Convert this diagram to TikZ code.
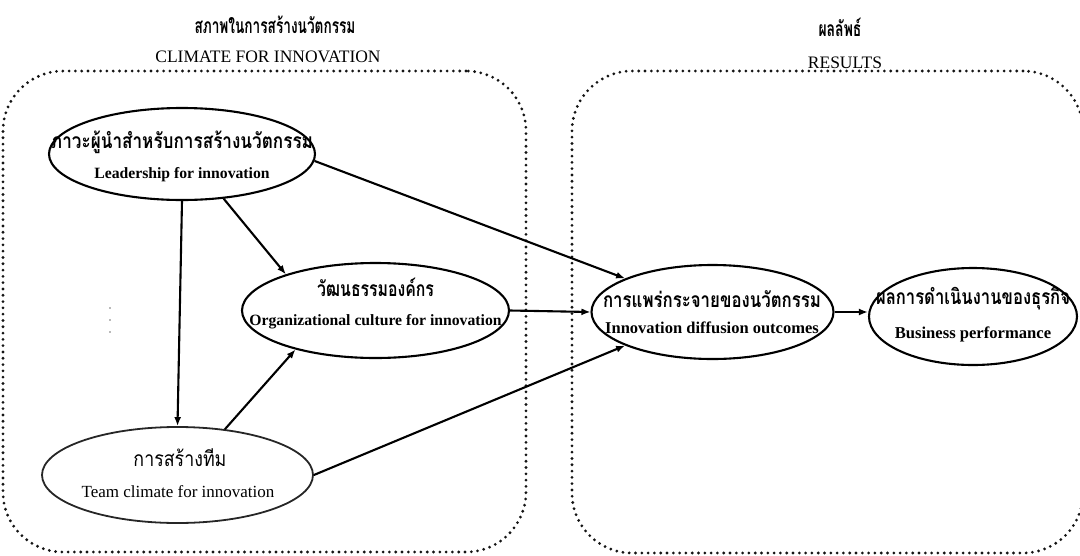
\documentclass[tikz,border=0pt]{standalone}
\usepackage{graphicx}
\usepackage{fontspec}
\setmainfont{Liberation Serif}
\newfontfamily\thaifont[Script=Thai]{Loma}
\usetikzlibrary{shapes.geometric,arrows.meta}
\newcommand\fitw[2]{\resizebox{#1}{\height}{#2}}
\begin{document}
\begin{tikzpicture}[x=1pt,y=-1pt,
  ell/.style={draw, ellipse, line width=2.1pt, inner sep=0pt},
  dotbox/.style={draw=black!92, line width=3.1pt, dash pattern=on 0pt off 6.3pt, line cap=round, rounded corners=60pt, inner sep=0pt},
  arr/.style={line width=2.1pt, -{Latex[length=9pt,width=7pt]}},
  th/.style={anchor=base, inner sep=0pt, font=\thaifont\bfseries\fontsize{21}{21}\selectfont},
  thr/.style={anchor=base, inner sep=0pt, font=\thaifont\fontsize{21}{21}\selectfont},
  en/.style={anchor=base, inner sep=0pt, font=\bfseries\fontsize{15.7}{16}\selectfont},
  ttl/.style={anchor=base, inner sep=0pt, font=\fontsize{17.5}{18}\selectfont},
]
\path[use as bounding box, clip] (0,0) rectangle (1080,555);

% group boxes
\node[dotbox, minimum width=523pt, minimum height=481pt] (boxL) at (264.5,311.5) {};
\node[dotbox, minimum width=511pt, minimum height=482pt] (boxR) at (827.5,312) {};

% titles
\node[th] (tL) at (275,33) {\fitw{161pt}{สภาพในการสร้างนวัตกรรม}};
\node[ttl] (cL) at (268,62) {CLIMATE FOR INNOVATION};
\node[th] (tR) at (840,36) {\fitw{43pt}{ผลลัพธ์}};
\node[ttl] (cR) at (845,68) {RESULTS};

% ellipses
\node[ell, minimum width=266pt, minimum height=92pt] (L) at (182,154) {};
\node[th] (Lth) at (182,148.5) {\fitw{262pt}{ภาวะผู้นำสำหรับการสร้างนวัตกรรม}};
\node[en] (Len) at (182,178) {Leadership for innovation};

\node[ell, minimum width=267pt, minimum height=95pt] (O) at (375.5,310.5) {};
\node[th] (Oth) at (375.5,296.5) {\fitw{117pt}{วัฒนธรรมองค์กร}};
\node[en] (Oen) at (375.5,325) {Organizational culture for innovation};

\node[ell, line width=1.8pt, draw=black!85, minimum width=271pt, minimum height=96pt] (T) at (177.5,475) {};
\node[thr] (Tth) at (180,466) {\fitw{93pt}{การสร้างทีม}};
\node[en, font=\fontsize{17}{17}\selectfont] (Ten) at (178,497) {Team climate for innovation};

\node[ell, minimum width=242pt, minimum height=94pt] (D) at (712.5,312) {};
\node[th] (Dth) at (712,307) {\fitw{218pt}{การแพร่กระจายของนวัตกรรม}};
\node[en, font=\bfseries\fontsize{16.5}{17}\selectfont] (Den) at (712,333) {Innovation diffusion outcomes};

\node[ell, minimum width=208pt, minimum height=97pt] (B) at (973,316.5) {};
\node[th] (Bth) at (973,304.5) {\fitw{194pt}{ผลการดำเนินงานของธุรกิจ}};
\node[en, font=\bfseries\fontsize{16.6}{17}\selectfont] (Ben) at (973,338) {Business performance};

% connectors
\draw[arr] (L.south) -- (T.north);
\draw[arr] (L.-47) -- (O.158);
\draw[arr] (T.44) -- (O.-154);
\draw[arr] (L.-3) -- (D.159);
\draw[arr] (T.east) -- (D.-159);
\draw[arr] (O.east) -- (D.west);
\draw[arr] (D.east) -- (D.east -| B.west);

% small marks
\fill[black!55] (110,308) circle (0.8pt) (110,320) circle (0.8pt) (110,332) circle (0.8pt);
\end{tikzpicture}
\end{document}
